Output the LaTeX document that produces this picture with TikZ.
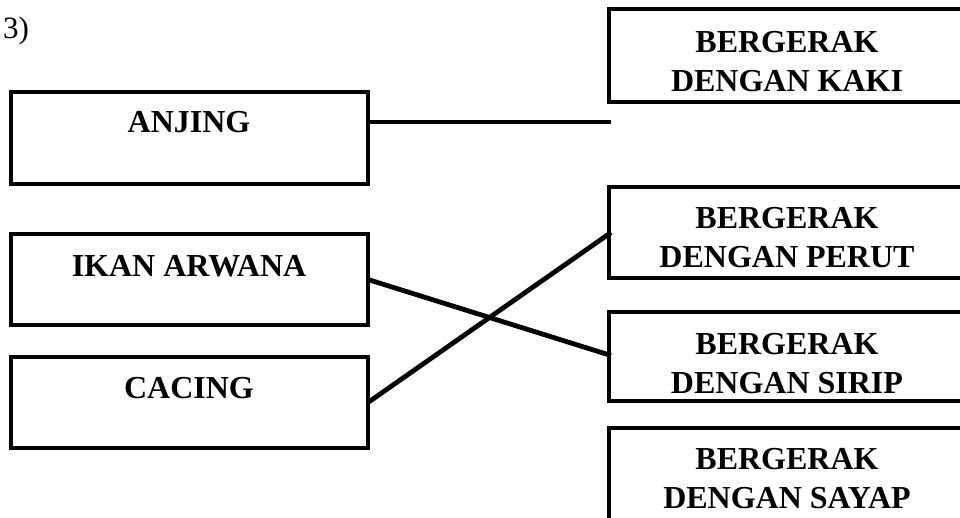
\documentclass[tikz,border=0pt]{standalone}
\usepackage{fontspec}
\setmainfont{Liberation Serif}
\begin{document}
\begin{tikzpicture}[x=1pt,y=-1pt,
  box/.style={draw=black, line width=3.8pt, rectangle, inner sep=0pt, outer sep=0pt, anchor=north west},
  lbl/.style={font=\bfseries\fontsize{32}{39}\selectfont, align=center, inner sep=0pt, anchor=base},
  conn/.style={line width=4.8pt}]
\useasboundingbox (0,0) rectangle (960,518);
\fill[white] (0,0) rectangle (960,518);
% number
\node[font=\fontsize{31}{34}\selectfont, inner sep=0pt, anchor=base west] (num) at (3,39) {3)};
% left boxes
\node[box, minimum width=357pt, minimum height=92pt] (anjing) at (11,92) {};
\node[box, minimum width=357pt, minimum height=91pt] (ikan) at (11,234) {};
\node[box, minimum width=357pt, minimum height=91pt] (cacing) at (11,357) {};
\node[lbl] (tanjing) at (189,133) {ANJING};
\node[lbl] (tikan) at (189,277) {IKAN ARWANA};
\node[lbl] (tcacing) at (189,398) {CACING};
% right boxes
\node[box, minimum width=357pt, minimum height=93pt] (kaki) at (609,9) {};
\node[box, minimum width=357pt, minimum height=91pt] (perut) at (609,187) {};
\node[box, minimum width=357pt, minimum height=89pt] (sirip) at (609,312) {};
\node[box, minimum width=357pt, minimum height=112pt] (sayap) at (609,428) {};
\node[lbl] (tkaki) at (787,92) {BERGERAK\\DENGAN KAKI};
\node[lbl] (tperut) at (787,268) {BERGERAK\\DENGAN PERUT};
\node[lbl] (tsirip) at (787,393) {BERGERAK\\DENGAN SIRIP};
\node[lbl] (tsayap) at (787,508) {BERGERAK\\DENGAN SAYAP};
% connectors
\coordinate (kfree) at (611,122);
\draw[conn] ([yshift=16pt]anjing.east) -- (kfree);
\draw[conn] (ikan.east) -- ([xshift=2pt,yshift=1pt]sirip.west);
\draw[conn] (cacing.east) -- ([xshift=2pt]perut.west);
\end{tikzpicture}
\end{document}
